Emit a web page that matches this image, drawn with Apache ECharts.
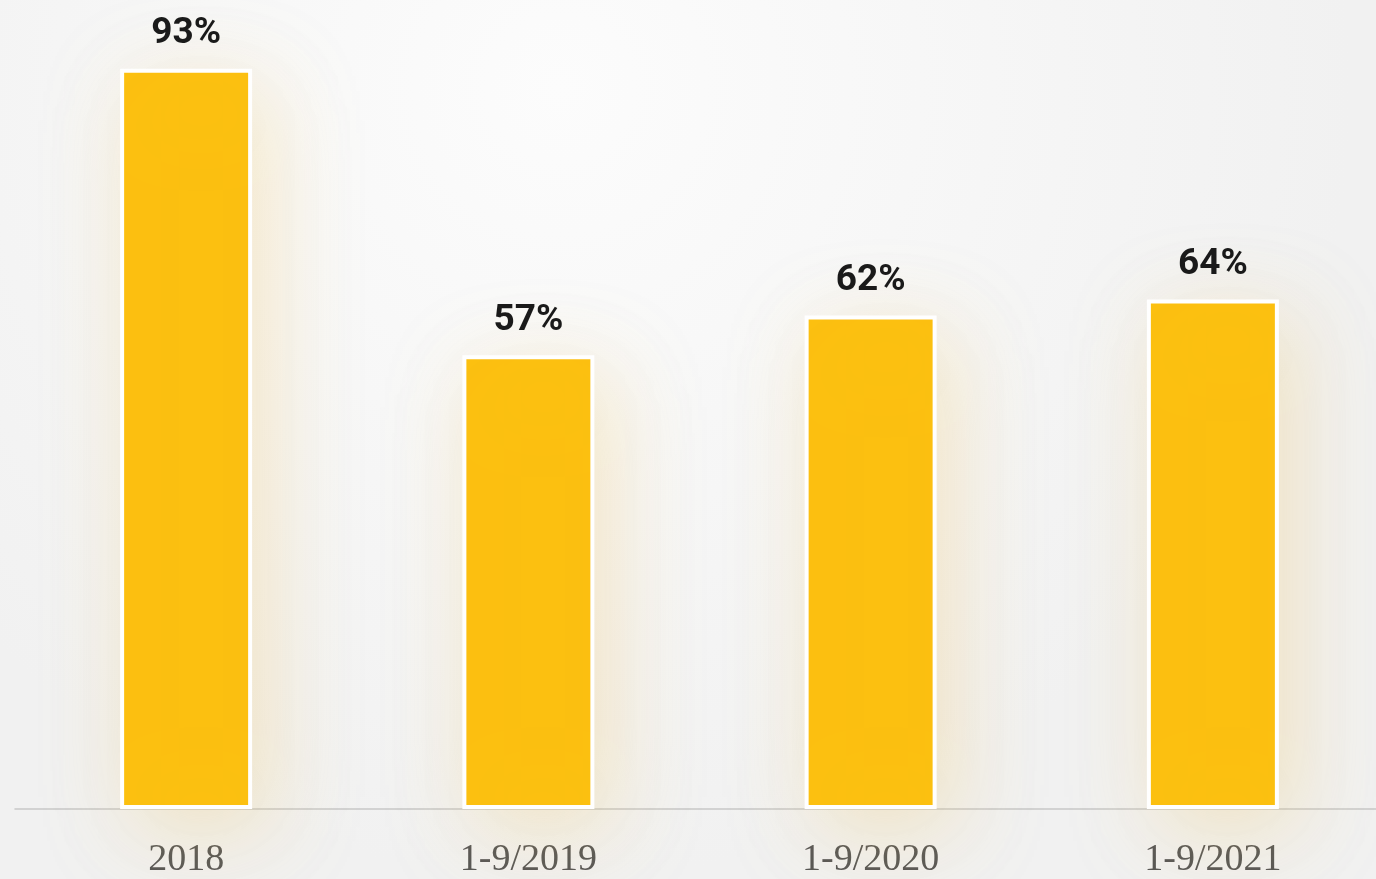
<!DOCTYPE html>
<html><head><meta charset="utf-8">
<script src="https://cdn.jsdelivr.net/npm/echarts@6/dist/echarts.min.js"></script>
<style>html,body{margin:0;padding:0;overflow:hidden;width:1376px;height:879px;background:#f3f3f3;}#c{width:1400px;height:879px;}</style>
</head><body><div id="c"></div>
<script>
const categories = ['2018', '1-9/2019', '1-9/2020', '1-9/2021'];
const values = [93, 57, 62, 64];

const chart = echarts.init(document.getElementById('c'));
chart.setOption({
  backgroundColor: {
    type: 'radial', x: 0.4, y: 0.1, r: 0.9,
    colorStops: [{offset: 0, color: '#fcfcfc'}, {offset: 1, color: '#f1f1f1'}]
  },
  animation: false,
  grid: {left: 15, top: 13, width: 1369, bottom: 66},
  xAxis: {
    type: 'category', data: categories,
    axisLine: {lineStyle: {color: '#c8c8c8', width: 1.5}},
    axisTick: {show: false},
    axisLabel: {color: '#555', fontFamily: 'Liberation Serif', fontSize: 38, margin: 32}
  },
  yAxis: {type: 'value', min: 0, max: 100, show: false, splitLine: {show: false}},
  series: [{
    type: 'bar', data: values, barWidth: 132,
    itemStyle: {
      color: '#FCC010', borderColor: '#ffffff', borderWidth: 4,
      shadowBlur: 90, shadowColor: 'rgba(240,200,110,0.35)', shadowOffsetX: 15, shadowOffsetY: 20
    },
    label: {
      show: true, position: 'top', distance: 16, formatter: '{c}%',
      color: '#1a1a1a', fontWeight: 'bold', fontFamily: 'Roboto', fontSize: 37
    }
  }]
});
</script></body></html>
